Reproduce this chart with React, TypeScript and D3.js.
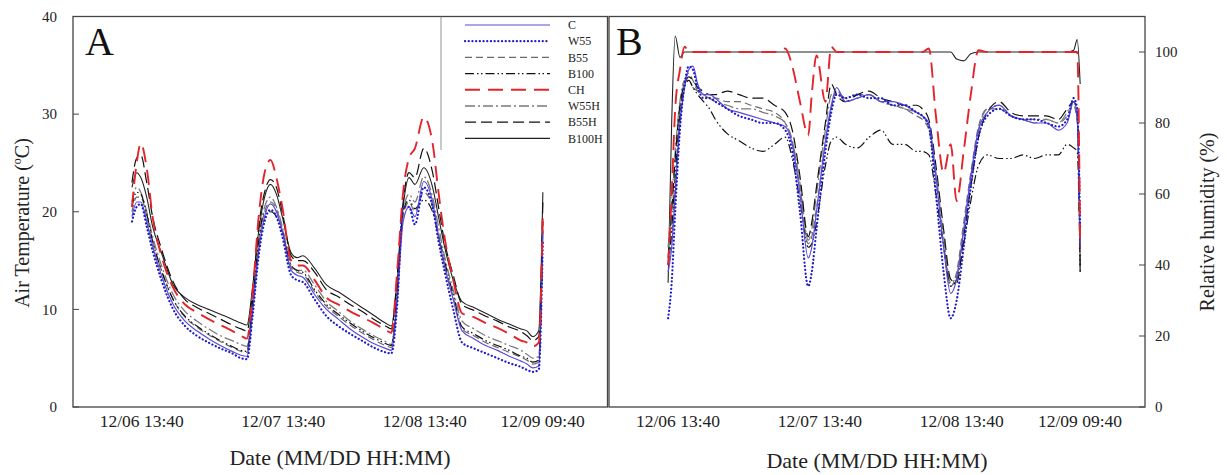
import React from 'react';
import * as d3 from 'd3';

const width = 1227;
const height = 475;

// sample times, hours after 12/06 12:00
const hoursA = [0, 0.8, 1.5, 2.5, 3.5, 5, 7, 9, 11, 13,
  15, 17, 18.5, 19.5, 20.5, 21.5, 22.5, 23.5, 24.5, 25.5,
  27, 28, 29, 31, 33, 35, 37, 39, 41, 43,
  44, 45, 46, 47, 48, 49.5, 51, 52, 53, 54.5,
  56, 58, 60, 62, 64, 66, 67, 68, 69, 69.7];

const hoursB = [0, 0.6, 1.2, 2, 2.8, 3.5, 4.2, 5, 6, 7,
  8, 10, 12, 14, 16, 18, 19.8, 21, 22.3, 23.7,
  24.3, 25.1, 26.6, 27.6, 28.5, 30, 32, 34, 36, 38,
  40, 42, 43, 44.1, 45.3, 46.6, 47.8, 48.8, 50, 51.2,
  52.5, 54, 56, 58, 60, 62, 64, 66, 67.5, 68.6,
  69.2, 69.7];

const tickLabels = ['12/06 13:40', '12/07 13:40', '12/08 13:40', '12/09 09:40'];
const seriesNames = ['C', 'W55', 'B55', 'B100', 'CH', 'W55H', 'B55H', 'B100H'];

// air temperature (°C)
const tempC = [19.5, 21, 21, 19, 16.5, 13.5, 10.5, 8.8, 7.8, 7.0,
  6.3, 5.7, 5.3, 5.2, 10, 16, 19.5, 20.8, 20, 18,
  14, 13.5, 13.3, 11.5, 10, 9, 8, 7.2, 6.5, 6.0,
  5.8, 11, 19, 20.5, 19.5, 23.1, 21, 17.5, 14.5, 11,
  7.8, 7.0, 6.3, 5.8, 5.2, 4.7, 4.4, 4.0, 4.2, 18];
const tempW55 = [19, 20.5, 20.8, 18.5, 16, 13, 10, 8.3, 7.3, 6.6,
  6.0, 5.5, 5.0, 4.9, 9.5, 15.5, 19, 20.2, 19.5, 17.5,
  13.5, 13, 12.8, 11, 9.3, 8.3, 7.5, 6.8, 6.1, 5.6,
  5.5, 10.5, 20.5, 20.5, 18.7, 22.5, 20.5, 17, 14, 10,
  6.6, 6.0, 5.5, 5.0, 4.5, 4.1, 3.8, 3.6, 3.8, 17];
const tempB55 = [20, 21.5, 21.5, 19.5, 17, 14, 11, 9.2, 8.2, 7.4,
  6.7, 6.1, 5.7, 5.6, 10.5, 16.5, 20, 21, 20.3, 18.3,
  14.3, 13.8, 13.6, 11.8, 10.3, 9.3, 8.4, 7.6, 6.9, 6.3,
  6.1, 11.5, 19.5, 21, 20, 22, 20.5, 17.8, 14.8, 11.3,
  8.0, 7.3, 6.6, 6.1, 5.6, 5.1, 4.8, 4.4, 4.6, 18.5];
const tempB100 = [20.5, 22, 21.8, 19.8, 17, 14, 11, 9.3, 8.3, 7.5,
  6.8, 6.2, 5.8, 5.7, 11, 17, 20, 20.0, 19.5, 18,
  14.5, 14, 13.8, 12, 10.5, 9.5, 8.6, 7.8, 7.1, 6.5,
  6.3, 12, 20, 21.2, 20.3, 21.2, 20, 17.5, 15, 11.5,
  8.2, 7.5, 6.8, 6.3, 5.8, 5.2, 5.0, 4.6, 4.8, 19];
const tempCH = [20.5, 25, 27, 24.5, 19.5, 15.5, 12.2, 10.5, 9.7, 9.0,
  8.4, 7.8, 7.3, 7.0, 12, 19.5, 24, 25.3, 23.5, 20.5,
  15, 14.5, 14.5, 13, 11.2, 10.5, 9.8, 9.2, 8.6, 7.9,
  7.6, 14, 22, 25.5, 26.5, 29.7, 27, 22, 17.5, 13,
  9.6, 9.2, 8.6, 8.1, 7.5, 6.8, 6.6, 6.2, 6.6, 20];
const tempW55H = [21, 22.5, 22, 20, 17.5, 14.5, 11.5, 9.8, 8.8, 8.0,
  7.3, 6.8, 6.4, 6.2, 11, 17, 20.5, 21.5, 20.5, 18.5,
  14.5, 14, 14, 12.5, 10.8, 9.8, 8.8, 8.0, 7.3, 6.7,
  6.4, 12, 20, 21.8, 21, 23.6, 21.5, 18.5, 15.5, 12,
  8.8, 8.0, 7.3, 6.8, 6.3, 5.8, 5.4, 5.0, 5.2, 19];
const tempB55H = [23, 25.5, 25.8, 23, 19.5, 16.2, 12.8, 11.0, 10.2, 9.6,
  9.0, 8.4, 8.0, 7.8, 12, 18.5, 22, 23.3, 22.5, 20,
  15.5, 15, 15, 13.8, 12, 11.3, 10.5, 9.8, 9.0, 8.3,
  8.0, 13.5, 21, 24, 23.5, 26.5, 24, 20.5, 17, 13.5,
  10.5, 9.9, 9.3, 8.8, 8.2, 7.7, 7.3, 6.8, 7.2, 21];
const tempB100H = [22.5, 24, 23.5, 21.5, 18.5, 15.8, 12.5, 11.2, 10.5, 10.0,
  9.5, 9.0, 8.6, 8.4, 12.5, 18, 21.5, 22.8, 21.8, 19.5,
  15.8, 15.3, 15.5, 14.2, 12.5, 11.8, 11.0, 10.2, 9.4, 8.6,
  8.3, 13, 20.5, 23.5, 22.8, 24.5, 22.5, 19.5, 16.5, 13,
  10.8, 10.2, 9.6, 9.0, 8.5, 8.0, 7.8, 7.2, 7.8, 22];

// relative humidity (%)
const rhC = [38, 45, 60, 80, 90, 95, 96, 91, 88, 88,
  87, 84, 83, 82, 81, 80, 79, 74, 60, 42,
  45, 55, 75, 85, 90, 86, 87, 88, 86, 86,
  85, 83, 82, 80, 65, 45, 32, 36, 50, 65,
  78, 83, 85, 82, 81, 80, 80, 78, 80, 86,
  82, 45];
const rhW55 = [25, 35, 55, 78, 91, 96, 95, 90, 87, 87,
  86, 84, 82, 81, 80, 80, 78, 72, 55, 34,
  38, 50, 72, 83, 88, 87, 88, 87, 87, 85,
  85, 83, 82, 79, 60, 38, 25, 30, 45, 62,
  76, 82, 84, 82, 81, 81, 80, 79, 81, 87,
  84, 50];
const rhB55 = [40, 48, 62, 82, 92, 94, 92, 89, 88, 87,
  87, 86, 86, 85, 84, 83, 80, 75, 62, 46,
  48, 56, 74, 84, 89, 86, 87, 88, 86, 85,
  84, 82, 81, 78, 64, 46, 34, 38, 52, 66,
  79, 84, 84, 82, 81, 80, 81, 80, 82, 85,
  80, 42];
const rhB100 = [40, 50, 65, 82, 90, 92, 90, 88, 86, 84,
  81, 77, 75, 73, 72, 74, 76, 70, 58, 45,
  46, 52, 68, 75, 76, 74, 73, 76, 78, 74,
  74, 72, 72, 71, 60, 45, 34, 36, 46, 58,
  68, 71, 70, 70, 71, 70, 71, 71, 74, 73,
  72, 38];
const rhCH = [40, 60, 84, 95, 101.5, 100, 100, 100, 100, 100,
  100, 100, 100, 100, 100, 100, 101, 96, 86, 76.5,
  88, 99, 86, 101.5, 100, 100, 100, 100, 100, 100,
  100, 100, 100, 101, 82, 66, 74, 58, 72, 88,
  100.5, 100, 100, 100, 100, 100, 100, 100, 100, 100,
  100, 45];
const rhW55H = [45, 58, 72, 86, 92, 92, 90, 89, 88, 87,
  86, 85, 84, 84, 83, 82, 80, 75, 63, 47,
  50, 60, 78, 88, 89, 87, 88, 88, 86, 85,
  84, 83, 82, 79, 66, 48, 35, 37, 50, 64,
  78, 84, 85, 82, 81, 81, 81, 80, 83, 86,
  81, 38];
const rhB55H = [42, 55, 70, 85, 91, 93, 92, 90, 89, 88,
  88, 89, 88, 87, 87, 85, 83, 78, 65, 48,
  52, 62, 80, 91, 88, 86, 88, 89, 87, 86,
  85, 85, 84, 81, 68, 50, 36, 35, 48, 62,
  76, 83, 86, 83, 82, 82, 82, 81, 84, 86,
  83, 40];
const rhB100H = [35, 80, 104.5, 98.5, 100, 100, 100, 100, 100, 100,
  100, 100, 100, 100, 100, 100, 100, 100, 100, 100,
  100, 100, 100, 100, 100, 100, 100, 100, 100, 100,
  100, 100, 100, 100, 100, 100, 100, 98, 97.5, 99.5,
  100, 100, 100, 100, 100, 100, 100, 100, 100, 100.5,
  103.5, 91];

const tempBySeries: Record<string, number[]> = {
  C: tempC, W55: tempW55, B55: tempB55, B100: tempB100,
  CH: tempCH, W55H: tempW55H, B55H: tempB55H, B100H: tempB100H,
};
const rhBySeries: Record<string, number[]> = {
  C: rhC, W55: rhW55, B55: rhB55, B100: rhB100,
  CH: rhCH, W55H: rhW55H, B55H: rhB55H, B100H: rhB100H,
};

const lineStyle: Record<string, { stroke: string; dash: string; w: number; cap?: string }> = {
  C: { stroke: '#5d4bd8', dash: '', w: 1.2 },
  W55: { stroke: '#1c1ccf', dash: '0.1,3.6', w: 2.2, cap: 'round' },
  B55: { stroke: '#6a6a6a', dash: '7,4', w: 1.2 },
  B100: { stroke: '#111', dash: '9,3,1.5,2.5,1.5,3', w: 1.2 },
  CH: { stroke: '#e3242b', dash: '15,8', w: 1.9 },
  W55H: { stroke: '#7a7a7a', dash: '10,3,2,3', w: 1.3 },
  B55H: { stroke: '#111', dash: '11,5', w: 1.2 },
  B100H: { stroke: '#222', dash: '', w: 1.1 },
};

const drawOrder = ['B100H', 'B55', 'W55H', 'B100', 'B55H', 'C', 'W55', 'CH'];

const parse = d3.timeParse('%m/%d %H:%M');
const t0 = parse('12/06 12:00') as Date;
const xStart = parse('12/06 02:00') as Date;
const xEnd = parse('12/09 20:40') as Date;
const toDate = (h: number) => new Date(t0.getTime() + h * 3600000);

const serif = 'Liberation Serif';
const frame = '#444';
const ink = '#222';

const top = 16.5;
const bottom = 407;

const App: React.FC = () => {
  const xA = d3.scaleTime().domain([xStart, xEnd]).range([73, 607.5]);
  const xB = d3.scaleTime().domain([xStart, xEnd]).range([609, 1145]);
  const yA = d3.scaleLinear().domain([0, 40]).range([bottom, top]);
  const yB = d3.scaleLinear().domain([0, 110]).range([bottom, top]);
  const ticks = tickLabels.map(s => parse(s) as Date);

  const path = (x: d3.ScaleTime<number, number>, y: d3.ScaleLinear<number, number>, hours: number[], vals: number[]) =>
    d3
      .line<number>()
      .x((_, i) => x(toDate(hours[i])))
      .y(d => y(d))
      .curve(d3.curveMonotoneX)(vals) || '';

  const renderLines = (x: any, y: any, hours: number[], data: Record<string, number[]>) =>
    drawOrder.map(name => {
      const s = lineStyle[name];
      return (
        <path
          key={name}
          d={path(x, y, hours, data[name])}
          fill="none"
          stroke={s.stroke}
          strokeWidth={s.w}
          strokeDasharray={s.dash || undefined}
          strokeLinecap={(s.cap as any) || 'butt'}
          strokeLinejoin="round"
        />
      );
    });

  const legendX0 = 465;
  const legendX1 = 550;
  const legendY0 = 25;
  const legendStep = 16.2;

  return (
    <div style={{ position: 'absolute', left: 0, top: 0 }}>
      <svg width={width} height={height} style={{ display: 'block', background: '#fff' }}>
        {/* panel A */}
        {renderLines(xA, yA, hoursA, tempBySeries)}
        <rect x={73} y={top} width={607.5 - 73} height={bottom - top} fill="none" stroke={frame} strokeWidth={1.3} />
        {yA.ticks(4).map(v => (
          <g key={'ya' + v}>
            <line x1={73} x2={79} y1={yA(v)} y2={yA(v)} stroke={frame} strokeWidth={1} />
            <text x={57} y={yA(v)} dy="0.35em" textAnchor="end" fontFamily={serif} fontSize={15} fill={ink}>{v}</text>
          </g>
        ))}
        {ticks.map((t, i) => (
          <text key={'xa' + i} x={xA(t)} y={427} textAnchor="middle" fontFamily={serif} fontSize={17.5} fill={ink}>
            {tickLabels[i]}
          </text>
        ))}
        <text x={(73 + 607) / 2} y={465} textAnchor="middle" fontFamily={serif} fontSize={22} fill={ink}>
          Date (MM/DD HH:MM)
        </text>
        <text transform="translate(29,223) rotate(-90)" textAnchor="middle" fontFamily={serif} fontSize={20} fill={ink}>
          Air Temperature (<tspan fontSize={12} dy={-8}>o</tspan><tspan dy={8}>C)</tspan>
        </text>
        <text x={85} y={55} fontFamily={serif} fontSize={40} fill="#111">A</text>

        {/* legend */}
        <line x1={441} x2={441} y1={top} y2={150} stroke="#777" strokeWidth={0.8} />
        {seriesNames.map((name, i) => {
          const s = lineStyle[name];
          const ly = legendY0 + i * legendStep;
          return (
            <g key={'lg' + name}>
              <line
                x1={legendX0}
                x2={legendX1}
                y1={ly}
                y2={ly}
                stroke={s.stroke}
                strokeWidth={s.w}
                strokeDasharray={s.dash || undefined}
                strokeLinecap={(s.cap as any) || 'butt'}
              />
              <text x={568} y={ly} dy="0.35em" fontFamily={serif} fontSize={12} fill={ink}>{name}</text>
            </g>
          );
        })}

        {/* panel B */}
        {renderLines(xB, yB, hoursB, rhBySeries)}
        <rect x={609} y={top} width={1145 - 609} height={bottom - top} fill="none" stroke={frame} strokeWidth={1.3} />
        {d3.range(0, 101, 20).map(v => (
          <g key={'yb' + v}>
            <line x1={1139} x2={1145} y1={yB(v)} y2={yB(v)} stroke={frame} strokeWidth={1} />
            <text x={1155} y={yB(v)} dy="0.35em" fontFamily={serif} fontSize={15} fill={ink}>{v}</text>
          </g>
        ))}
        {ticks.map((t, i) => (
          <text key={'xb' + i} x={xB(t)} y={427} textAnchor="middle" fontFamily={serif} fontSize={17.5} fill={ink}>
            {tickLabels[i]}
          </text>
        ))}
        <text x={(609 + 1145) / 2} y={468} textAnchor="middle" fontFamily={serif} fontSize={22} fill={ink}>
          Date (MM/DD HH:MM)
        </text>
        <text transform="translate(1214,222) rotate(-90)" textAnchor="middle" fontFamily={serif} fontSize={20} fill={ink}>
          Relative humidity (%)
        </text>
        <text x={616} y={55} fontFamily={serif} fontSize={40} fill="#111">B</text>
      </svg>
    </div>
  );
};

export default App;
